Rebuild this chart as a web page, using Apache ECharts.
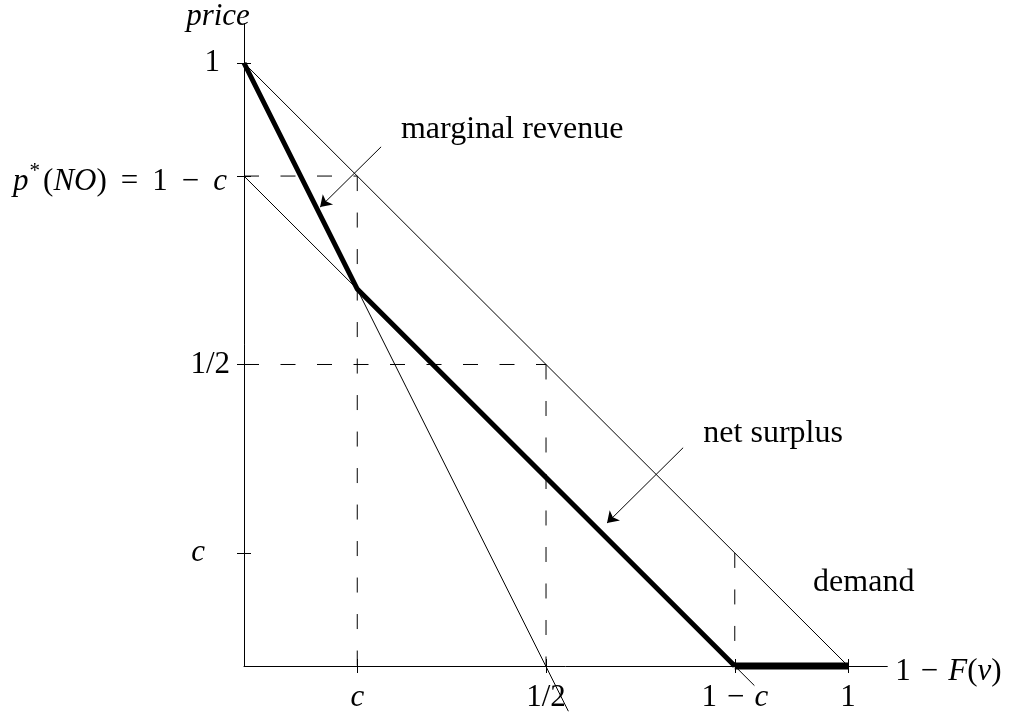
<!DOCTYPE html>
<html>
<head>
<meta charset="utf-8">
<script src="https://cdn.jsdelivr.net/npm/echarts@6/dist/echarts.min.js"></script>
<style>
  html, body { margin: 0; padding: 0; background: #fff; }
  #chart { width: 1013px; height: 715px; }
</style>
</head>
<body>
<div id="chart"></div>
<script>
// c = 3/16, all values are [1 - F(v), price]
var demand = [[0, 1], [1, 0]];
var marginalRevenue = [[0, 1], [0.537, -0.075]];
var shifted = [[0, 0.8125], [0.845, -0.0325]];
var surplusKinked = [[0, 1], [0.1875, 0.625], [0.8125, 0]];
var surplusFlat = [[0.8125, 0], [1, 0]];
var guides = [
  [[0, 0.8125], [0.1875, 0.8125]],
  [[0.1875, 0.8125], [0.1875, 0]],
  [[0, 0.5], [0.5, 0.5]],
  [[0.5, 0.5], [0.5, 0]],
  [[0.8125, 0.1875], [0.8125, 0]]
];

var arrows = [
  [[0.227, 0.861], [0.126, 0.761]],
  [[0.727, 0.362], [0.601, 0.237]]
];
var notes = [
  [0.444, 0.889, 'marginal revenue'],
  [0.876, 0.386, 'net surplus'],
  [1.026, 0.139, 'demand']
];

var xTicks = [0.1875, 0.5, 0.8125, 1];
var xTickLabels = ['{i|c}', '1/2', '1{op|−}{i|c}', '1'];
var yTicks = [0.1875, 0.5, 0.8125, 1];
var yTickLabels = ['{ic|c}', '1/2', '{pi|p}{sup|*}{pr|(}{pi|NO}{pr|)}{pop|=}{pr|1}{pop|−}{pend|c}', '{one|1}'];

var FONT = '"Liberation Serif", "DejaVu Serif", serif';
var FS = 31;

var rich = {
  i: { fontStyle: 'italic', fontFamily: FONT, fontSize: FS, color: '#000' },
  op: { fontFamily: FONT, fontSize: FS, color: '#000', padding: [0, 10, 0, 10] },
  ic: { fontStyle: 'italic', fontFamily: FONT, fontSize: FS, color: '#000', padding: [0, 25, 0, 0] },
  one: { fontFamily: FONT, fontSize: FS, color: '#000', padding: [0, 10, 0, 0] },
  pi: { fontStyle: 'italic', fontFamily: FONT, fontSize: FS, color: '#000', padding: [12, 0, 0, 0] },
  pend: { fontStyle: 'italic', fontFamily: FONT, fontSize: FS, color: '#000', padding: [12, 3, 0, 0] },
  pr: { fontFamily: FONT, fontSize: FS, color: '#000', padding: [12, 0, 0, 0] },
  pop: { fontFamily: FONT, fontSize: FS, color: '#000', padding: [12, 14, 0, 14] },
  sup: { fontFamily: FONT, fontSize: 21, color: '#000', verticalAlign: 'top', padding: [6, 3, 0, 1] }
};

function pick(values, labels) {
  return function (v) {
    for (var k = 0; k < values.length; k++) {
      if (Math.abs(values[k] - v) < 1e-6) return labels[k];
    }
    return '';
  };
}

var xMax = 1.065, yMax = 1.065;

var chart = echarts.init(document.getElementById('chart'));

function thin(data, dashed) {
  return {
    type: 'line', data: data, symbol: 'none', silent: true, clip: false,
    lineStyle: { color: '#000', width: 1, type: dashed ? [15, 21.5] : 'solid' }
  };
}

var series = [thin(demand), thin(marginalRevenue), thin(shifted)];
guides.forEach(function (g) { series.push(thin(g, true)); });
series.push(
  {
    type: 'line', data: surplusKinked, symbol: 'none', silent: true, clip: false,
    lineStyle: { color: '#000', width: 5, join: 'miter' }
  },
  {
    type: 'line', data: surplusFlat, symbol: 'none', silent: true, clip: false,
    lineStyle: { color: '#000', width: 7 }
  },
  {
    type: 'lines', coordinateSystem: 'cartesian2d', silent: true,
    symbol: ['none', 'arrow'], symbolSize: 11,
    lineStyle: { color: '#000', width: 1, opacity: 1, curveness: 0 },
    data: arrows.map(function (a) { return { coords: a }; })
  },
  {
    type: 'scatter', data: notes, symbolSize: 0, silent: true,
    itemStyle: { color: '#000' },
    label: {
      show: true, position: 'inside', color: '#000', opacity: 1,
      textBorderWidth: 0, textBorderColor: 'transparent',
      fontFamily: FONT, fontSize: 32,
      formatter: function (p) { return p.data[2]; }
    }
  }
);

chart.setOption({
  animation: false,
  backgroundColor: '#fff',
  grid: { left: 244, right: 125.7, top: 23.8, bottom: 49, containLabel: false, outerBoundsMode: 'none' },
  xAxis: [{
    type: 'value', min: 0, max: xMax, position: 'bottom',
    axisLine: { show: true, onZero: false, lineStyle: { color: '#000', width: 1 } },
    axisTick: { show: true, length: 7, customValues: xTicks, lineStyle: { color: '#000', width: 1 } },
    axisLabel: {
      show: true, customValues: xTicks, margin: 16, color: '#000',
      fontFamily: FONT, fontSize: FS, formatter: pick(xTicks, xTickLabels), rich: rich
    },
    splitLine: { show: false },
    name: '1{op|−}{i|F}({i|v})', nameLocation: 'end', nameGap: 8,
    nameTextStyle: { fontFamily: FONT, fontSize: FS, color: '#000', rich: rich, padding: [12, 0, 0, 0] }
  }, {
    type: 'value', min: 0, max: xMax, position: 'bottom',
    axisLine: { show: false, onZero: false },
    axisTick: { show: true, inside: true, length: 7, customValues: xTicks, lineStyle: { color: '#000', width: 1 } },
    axisLabel: { show: false }, splitLine: { show: false }
  }],
  yAxis: [{
    type: 'value', min: 0, max: yMax, position: 'left',
    axisLine: { show: true, onZero: false, lineStyle: { color: '#000', width: 1 } },
    axisTick: { show: true, length: 7, customValues: yTicks, lineStyle: { color: '#000', width: 1 } },
    axisLabel: {
      show: true, customValues: yTicks, margin: 14, color: '#000',
      fontFamily: FONT, fontSize: FS, formatter: pick(yTicks, yTickLabels), rich: rich
    },
    splitLine: { show: false },
    name: '{i|price}', nameLocation: 'end', nameGap: -9,
    nameTextStyle: { fontFamily: FONT, fontSize: FS, color: '#000', rich: rich, align: 'center', padding: [0, 52, 0, 0] }
  }, {
    type: 'value', min: 0, max: yMax, position: 'left',
    axisLine: { show: false, onZero: false },
    axisTick: { show: true, inside: true, length: 7, customValues: yTicks, lineStyle: { color: '#000', width: 1 } },
    axisLabel: { show: false }, splitLine: { show: false }
  }],
  series: series
});
</script>
</body>
</html>
